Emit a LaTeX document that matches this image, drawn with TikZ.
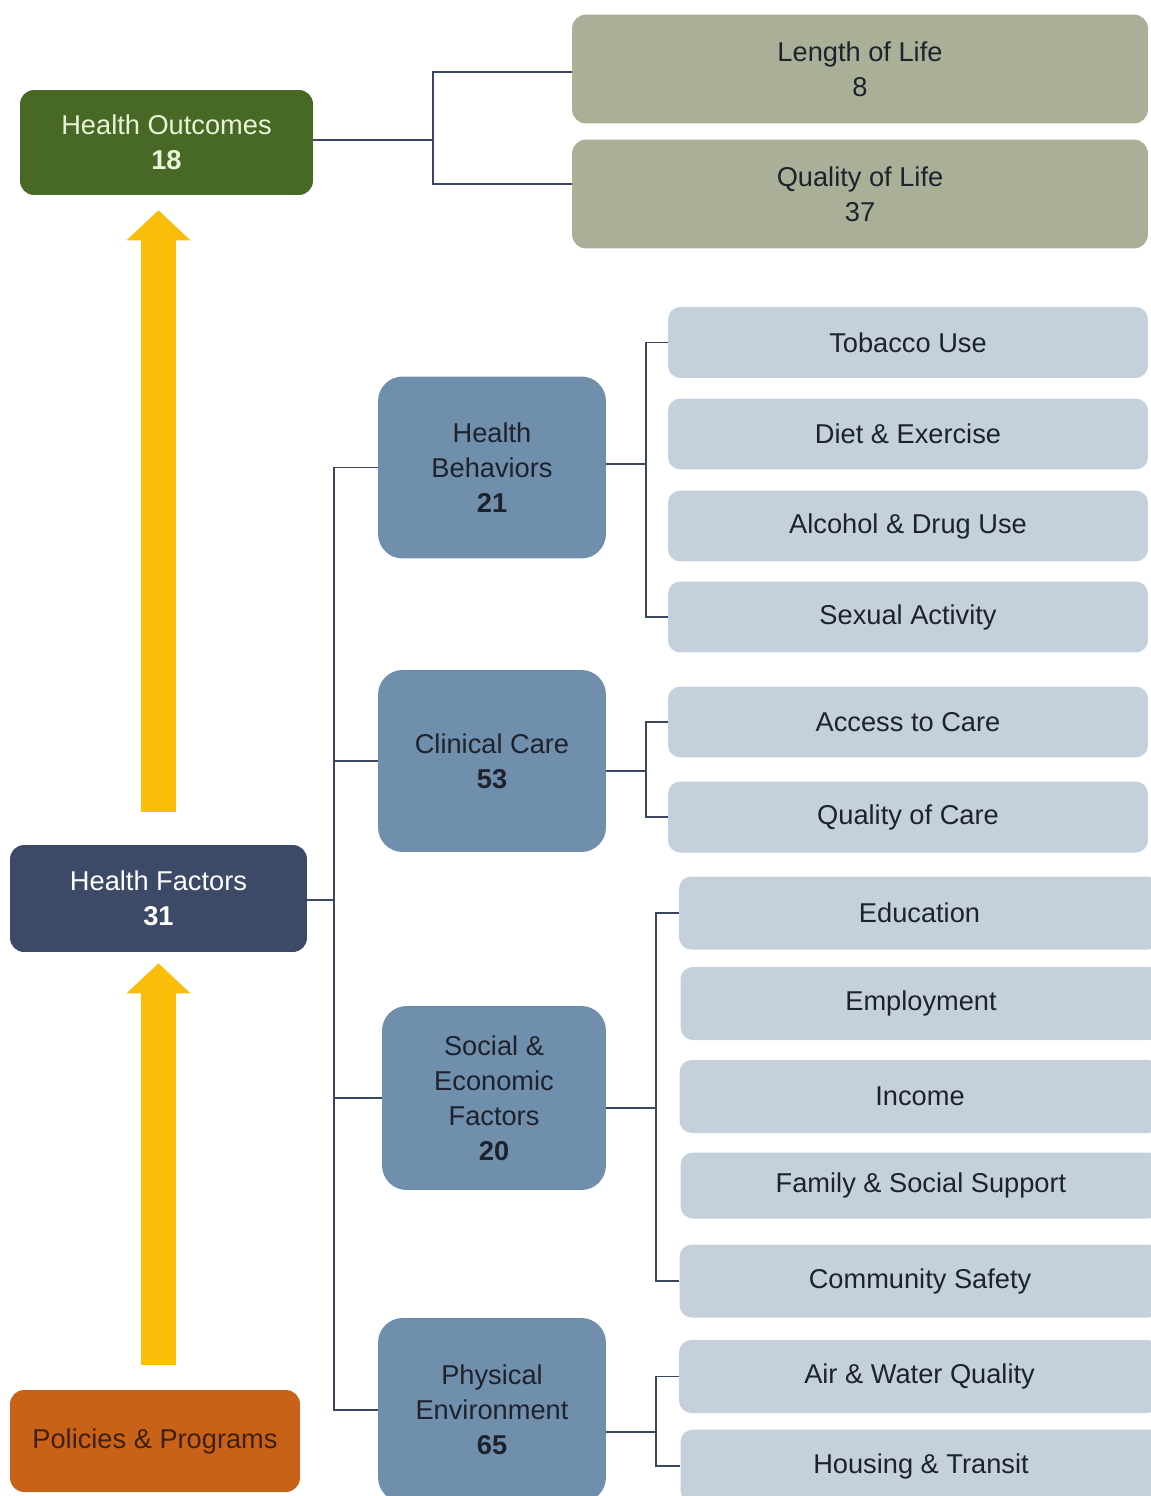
\documentclass[tikz,border=0pt]{standalone}
\usepackage{fontspec}
\setmainfont{Liberation Sans}
\usetikzlibrary{arrows.meta}
\definecolor{outgreen}{RGB}{72,104,38}
\definecolor{outtext}{RGB}{232,245,214}
\definecolor{lifegrey}{RGB}{170,176,152}
\definecolor{factblue}{RGB}{60,74,104}
\definecolor{midblue}{RGB}{111,143,172}
\definecolor{paleblue}{RGB}{196,208,220}
\definecolor{policyorange}{RGB}{200,98,24}
\definecolor{policytext}{RGB}{62,32,12}
\definecolor{riseyellow}{RGB}{250,190,10}
\definecolor{linkblue}{RGB}{58,70,98}
\definecolor{darktext}{RGB}{30,34,44}

\begin{document}
\begin{tikzpicture}[
  x=0.02cm, y=-0.02cm,
  every node/.style={font=\fontsize{15.5}{20}\selectfont, align=center, inner sep=0pt},
  outbox/.style={rounded corners=8pt, fill=outgreen, text=outtext, minimum width=5.86cm, minimum height=2.1cm},
  lifebox/.style={rounded corners=8pt, fill=lifegrey, text=darktext, minimum width=11.52cm, minimum height=2.18cm},
  factbox/.style={rounded corners=8pt, fill=factblue, text=white, minimum width=5.94cm, minimum height=2.14cm},
  policybox/.style={rounded corners=8pt, fill=policyorange, text=policytext, minimum width=5.8cm, minimum height=2.04cm},
  groupbox/.style={rounded corners=14pt, fill=midblue, text=darktext, minimum width=4.56cm, minimum height=3.64cm},
  itembox/.style={rounded corners=7pt, fill=paleblue, text=darktext, minimum width=9.6cm, minimum height=1.42cm},
  wideitem/.style={itembox, minimum width=9.62cm, minimum height=1.46cm},
  link/.style={draw=linkblue, line width=0.85pt},
  rise/.style={draw=riseyellow, line width=0.72cm, -{Triangle[width=1.28cm, length=0.6cm, line width=0pt]}}
]
  \useasboundingbox (0,0) rectangle (1151,1496);

  \node[outbox] (HO) at (166.5,142.5) {Health Outcomes\\\textbf{18}};
  \node[lifebox] (LL) at (860,69) {Length of Life\\8};
  \node[lifebox] (QL) at (860,194) {Quality of Life\\37};
  \node[factbox] (HF) at (158.5,898.5) {Health Factors\\\textbf{31}};
  \node[policybox] (PP) at (155,1441) {Policies \& Programs};

  \node[groupbox] (HB) at (492,467.5) {Health\\Behaviors\\\textbf{21}};
  \node[groupbox] (CC) at (492,761) {Clinical Care\\\textbf{53}};
  \node[groupbox, minimum width=4.48cm, minimum height=3.68cm] (SE) at (494,1098) {Social \&\\Economic\\Factors\\\textbf{20}};
  \node[groupbox, minimum height=3.68cm] (PE) at (492,1410) {Physical\\Environment\\\textbf{65}};

  \node[itembox] (tob) at (908,342.5) {Tobacco Use};
  \node[itembox] (diet) at (908,434) {Diet \& Exercise};
  \node[itembox] (alc) at (908,526) {Alcohol \& Drug Use};
  \node[itembox] (sex) at (908,617) {Sexual Activity};
  \node[itembox] (acc) at (908,722) {Access to Care};
  \node[itembox] (qoc) at (908,817) {Quality of Care};

  \node[wideitem] (edu) at (919.5,913) {Education};
  \node[wideitem] (emp) at (921,1003.5) {Employment};
  \node[wideitem] (inc) at (920,1096.5) {Income};
  \node[wideitem, minimum height=1.32cm] (fam) at (921,1185.5) {Family \& Social Support};
  \node[wideitem] (cs) at (920,1281) {Community Safety};
  \node[wideitem] (air) at (919.5,1376.5) {Air \& Water Quality};
  \node[wideitem] (hou) at (921,1466) {Housing \& Transit};

  \coordinate (hobus) at (433,140);
  \coordinate (hfbus) at (334,900);
  \coordinate (hbbus) at (646,464);
  \coordinate (ccbus) at (646,771);
  \coordinate (sebus) at (656,1108);
  \coordinate (pebus) at (656,1432);

  \draw[link] (hobus -| HO.east) -- (hobus);
  \draw[link] (hobus) |- ([yshift=-0.06cm]LL.west);
  \draw[link] (hobus) |- ([yshift=0.2cm]QL.west);
  \draw[link] (hfbus -| HF.east) -- (hfbus);
  \foreach \n in {HB,CC,SE,PE} \draw[link] (hfbus) |- (\n.west);
  \draw[link] (hbbus -| HB.east) -- (hbbus);
  \foreach \n in {tob,sex} \draw[link] (hbbus) |- (\n.west);
  \draw[link] (ccbus -| CC.east) -- (ccbus);
  \foreach \n in {acc,qoc} \draw[link] (ccbus) |- (\n.west);
  \draw[link] (sebus -| SE.east) -- (sebus);
  \foreach \n in {edu,cs} \draw[link] (sebus) |- (\n.west);
  \draw[link] (pebus -| PE.east) -- (pebus);
  \foreach \n in {air,hou} \draw[link] (pebus) |- (\n.west);

  \draw[rise, shorten <=0.5cm, shorten >=0.22cm] (PP.north -| HF.south) -- (HF.south);
  \draw[rise, shorten <=0.66cm, shorten >=0.3cm] (HF.north) -- (HF.north |- HO.south);
\end{tikzpicture}
\end{document}
